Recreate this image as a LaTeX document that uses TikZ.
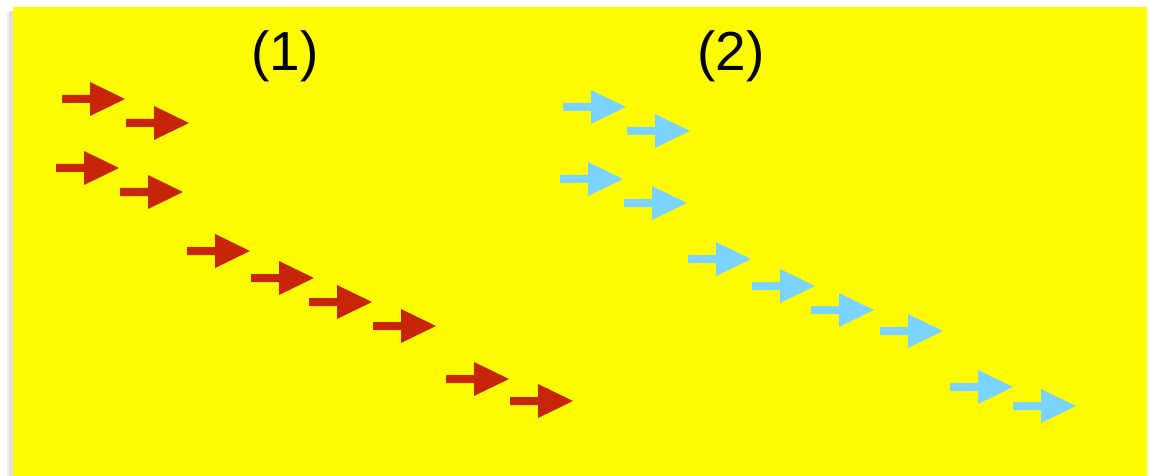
\documentclass[tikz,border=0pt]{standalone}
\usepackage{fontspec}
\setmainfont{Liberation Sans}
\definecolor{bgyellow}{RGB}{255,251,0}
\definecolor{arrred}{RGB}{200,37,8}
\definecolor{arrblue}{RGB}{122,212,255}
\tikzset{
  fatarrow/.pic={\fill (0,-4) -- (28,-4) -- (28,-17) -- (63,0) -- (28,17) -- (28,4) -- (0,4) -- cycle;},
  redarrow/.style={fill=arrred},
  bluearrow/.style={fill=arrblue},
  label/.style={font=\fontsize{55}{60}\selectfont, text=black, inner sep=0pt}
}
\begin{document}
\begin{tikzpicture}[x=1pt,y=-1pt]
\useasboundingbox (0,0) rectangle (1149,476);
\fill[white] (0,0) rectangle (1149,476);
\fill[black!12] (9,11) rectangle (13,476);
\fill[black!6] (7,13) rectangle (9,476);
\fill[bgyellow] (13,7) rectangle (1147,476);
\node[label] (l1) at (285,56) {(1)};
\node[label] (l2) at (731,56) {(2)};
\foreach \x/\y in {62/99,126/123,56/168,120/192,187/251,251/278,309/302,373/326,446/379,510/401}
  \pic[redarrow] at (\x,\y) {fatarrow};
\foreach \x/\y in {563/107,627/131,560/179,624/203,688/259,752/286,811/310,880/331,950/387,1013/406}
  \pic[bluearrow] at (\x,\y) {fatarrow};
\end{tikzpicture}
\end{document}
